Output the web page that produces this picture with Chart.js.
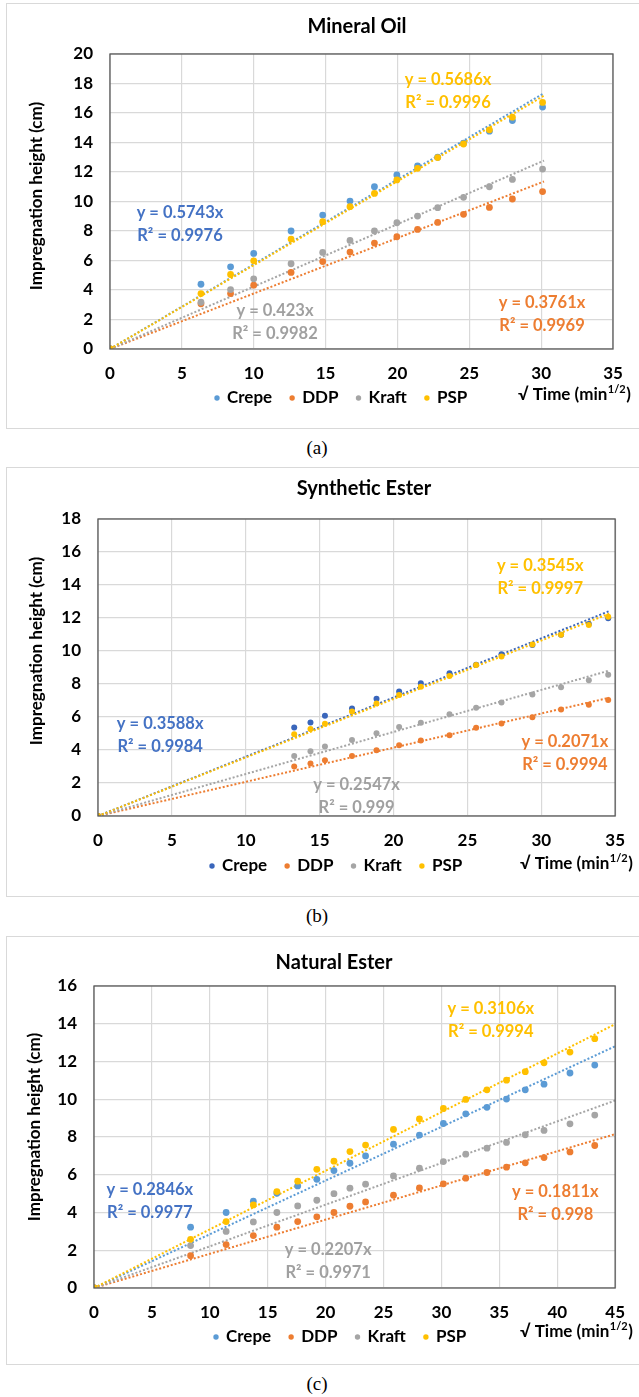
<!DOCTYPE html>
<html>
<head>
<meta charset="utf-8">
<script src="https://cdn.jsdelivr.net/npm/chart.js@4.4.0/dist/chart.umd.min.js"></script>
<style>
  body { margin: 0; width: 639px; height: 1397px; background: #fff; position: relative; overflow: hidden; }
  .panel { position: absolute; left: 6px; width: 640px; border: 1px solid #d9d9d9; box-sizing: border-box; }
  canvas { position: absolute; left: 0; }
  .cap { position: absolute; left: 0; width: 634px; text-align: center; font-family: 'Liberation Serif', serif; font-size: 19px; color: #000; }
</style>
</head>
<body>
<div class="panel" style="top:3px;height:426px"></div>
<div class="panel" style="top:467px;height:430px"></div>
<div class="panel" style="top:936px;height:429px"></div>
<canvas id="oil" width="639" height="425" style="top:3px"></canvas>
<canvas id="syn" width="639" height="429" style="top:467px"></canvas>
<canvas id="nat" width="639" height="428" style="top:936px"></canvas>
<div class="cap" style="top:437px">(a)</div>
<div class="cap" style="top:905px">(b)</div>
<div class="cap" style="top:1373px">(c)</div>

<script>
const seriesNames = ['Crepe', 'DDP', 'Kraft', 'PSP'];

// Mineral Oil
const oilX     = [0, 6.33, 8.39, 10.0, 12.6, 14.8, 16.7, 18.4, 19.96, 21.4, 22.8, 24.6, 26.4, 28.0, 30.1];
const oilCrepe = [0, 4.39, 5.57, 6.48, 8.0, 9.08, 10.03, 11.0, 11.8, 12.41, 13.0, 13.95, 14.77, 15.49, 16.4];
const oilDDP   = [0, 3.06, 3.76, 4.33, 5.19, 5.93, 6.57, 7.18, 7.61, 8.11, 8.58, 9.13, 9.6, 10.17, 10.67];
const oilKraft = [0, 3.17, 4.03, 4.76, 5.78, 6.55, 7.36, 8.0, 8.56, 9.01, 9.58, 10.28, 11.0, 11.5, 12.2];
const oilPSP   = [0, 3.76, 5.05, 5.98, 7.45, 8.63, 9.65, 10.55, 11.46, 12.25, 12.98, 13.9, 14.86, 15.72, 16.72];
const oilSlopes = [0.5743, 0.3761, 0.423, 0.5686];
const oilR2     = ['0.9976', '0.9969', '0.9982', '0.9996'];
const oilTrendEnd = 30.2;

// Synthetic Ester
const synX     = [0, 13.28, 14.38, 15.36, 17.19, 18.85, 20.38, 21.85, 23.79, 25.59, 27.31, 29.4, 31.34, 33.22, 34.53];
const synCrepe = [0, 5.37, 5.67, 6.07, 6.52, 7.11, 7.55, 8.04, 8.65, 9.17, 9.8, 10.37, 10.99, 11.64, 11.99];
const synDDP   = [0, 3.0, 3.18, 3.38, 3.64, 3.99, 4.29, 4.58, 4.9, 5.35, 5.61, 5.99, 6.46, 6.74, 7.03];
const synKraft = [0, 3.64, 3.93, 4.21, 4.6, 5.02, 5.39, 5.65, 6.16, 6.56, 6.88, 7.37, 7.8, 8.22, 8.56];
const synPSP   = [0, 4.96, 5.28, 5.59, 6.34, 6.82, 7.33, 7.84, 8.48, 9.15, 9.66, 10.39, 10.99, 11.58, 12.07];
const synSlopes = [0.3588, 0.2071, 0.2547, 0.3545];
const synR2     = ['0.9984', '0.9994', '0.999', '0.9997'];
const synTrendEnd = 34.6;

// Natural Ester
const natX     = [0, 8.34, 11.41, 13.76, 15.79, 17.59, 19.24, 20.72, 22.1, 23.45, 25.86, 28.1, 30.17, 32.1, 33.93, 35.62, 37.24, 38.86, 41.1, 43.24];
const natCrepe = [0, 3.22, 4.0, 4.6, 5.02, 5.41, 5.76, 6.22, 6.61, 7.0, 7.62, 8.1, 8.72, 9.23, 9.57, 10.01, 10.5, 10.8, 11.39, 11.81];
const natDDP   = [0, 1.71, 2.3, 2.78, 3.22, 3.52, 3.77, 4.0, 4.33, 4.56, 4.92, 5.3, 5.52, 5.82, 6.12, 6.4, 6.63, 6.91, 7.21, 7.55];
const natKraft = [0, 2.25, 3.0, 3.5, 4.0, 4.35, 4.65, 5.0, 5.29, 5.5, 5.94, 6.35, 6.7, 7.09, 7.41, 7.71, 8.12, 8.35, 8.7, 9.16];
const natPSP   = [0, 2.58, 3.52, 4.4, 5.11, 5.66, 6.29, 6.72, 7.23, 7.57, 8.4, 8.96, 9.51, 9.99, 10.5, 11.01, 11.46, 11.93, 12.5, 13.21];
const natSlopes = [0.2846, 0.1811, 0.2207, 0.3106];
const natR2     = ['0.9977', '0.998', '0.9971', '0.9994'];
const natTrendEnd = 45;

const FONT = 'Lato, "Open Sans", sans-serif';
const pointColors = ['#5B9BD5', '#ED7D31', '#A5A5A5', '#FFC000'];
const textColors = ['#4472C4', '#ED7D31', '#A0A0A0', '#FFC000'];

// draws border, title, legend, axis titles and trendline equations
function decorPlugin(p) {
  return {
    id: 'decor',
    afterDatasetsDraw(chart) {
      const ctx = chart.ctx, a = chart.chartArea;
      const xs = chart.scales.x, ys = chart.scales.y;
      ctx.save();
      ctx.strokeStyle = '#595959';
      ctx.lineWidth = 1.3;
      ctx.strokeRect(a.left, a.top, a.right - a.left, a.bottom - a.top);

      // equations
      ctx.font = 'bold 16.5px ' + FONT;
      ctx.textAlign = 'center';
      ctx.textBaseline = 'middle';
      p.eqPos.forEach((e, i) => {
        const x = xs.getPixelForValue(e[0]);
        const y = ys.getPixelForValue(e[1]);
        ctx.fillStyle = textColors[i];
        ctx.fillText('y = ' + p.slopes[i] + 'x', x, y);
        ctx.fillText('R² = ' + p.r2[i], x, y + 23);
      });

      // title
      ctx.fillStyle = '#000';
      ctx.font = 'bold 20px ' + FONT;
      ctx.fillText(p.title, p.titleX, p.titleY);

      // y axis title
      ctx.save();
      ctx.translate(p.yTitleX, p.yTitleY);
      ctx.rotate(-Math.PI / 2);
      ctx.font = 'bold 17px ' + FONT;
      ctx.fillText('Impregnation height (cm)', 0, 0);
      ctx.restore();

      // legend
      ctx.font = 'bold 17px ' + FONT;
      ctx.textAlign = 'left';
      let lx = p.legendX;
      seriesNames.forEach((n, i) => {
        ctx.fillStyle = p.colors[i];
        ctx.beginPath();
        ctx.arc(lx, p.legendY, 2.7, 0, Math.PI * 2);
        ctx.fill();
        ctx.fillStyle = '#000';
        ctx.fillText(n, lx + 10, p.legendY);
        lx += 10 + ctx.measureText(n).width + 20;
      });

      // x axis title with superscript
      let tx = p.xTitleX;
      const s1 = '√ Time (min';
      ctx.fillText(s1, tx, p.xTitleY);
      tx += ctx.measureText(s1).width;
      ctx.font = 'bold 11px ' + FONT;
      ctx.fillText('1/2', tx + 0.5, p.xTitleY - 6);
      tx += ctx.measureText('1/2').width + 1;
      ctx.font = 'bold 17px ' + FONT;
      ctx.fillText(')', tx, p.xTitleY);
      ctx.restore();
    }
  };
}

function makeChart(id, xVals, ys, slopes, r2, trendEnd, xMax, yMax, p) {
  const cv = document.getElementById(id);
  const H = cv.height;
  const datasets = [];
  const order = [3, 2, 1, 0];
  ys.forEach((vals, i) => {
    datasets.push({
      type: 'scatter',
      label: seriesNames[i],
      data: xVals.map((x, k) => ({ x: x, y: vals[k] })),
      backgroundColor: p.colors[i],
      borderColor: p.colors[i],
      pointRadius: p.radius,
      pointHoverRadius: p.radius,
      borderWidth: 0,
      order: order[i]
    });
  });
  slopes.forEach((m, i) => {
    datasets.push({
      type: 'line',
      label: seriesNames[i] + ' trend',
      data: [{ x: 0, y: 0 }, { x: trendEnd, y: m * trendEnd }],
      borderColor: p.colors[i],
      borderWidth: 2,
      borderDash: [2, 2],
      pointRadius: 0,
      fill: false,
      order: 10 + order[i]
    });
  });

  return new Chart(cv.getContext('2d'), {
    type: 'scatter',
    data: { datasets: datasets },
    options: {
      responsive: false,
      animation: false,
      layout: {
        padding: { left: 0, right: 639 - p.plotRight, top: p.plotTop, bottom: H - p.plotBottom - 40 }
      },
      plugins: { legend: { display: false }, title: { display: false }, tooltip: { enabled: false } },
      scales: {
        x: {
          type: 'linear', min: 0, max: xMax,
          ticks: { stepSize: 5, color: '#000', padding: 14, font: { family: FONT, size: 17, weight: 'bold' } },
          grid: { color: '#d9d9d9', lineWidth: 1.2, drawTicks: false },
          border: { display: false },
          afterFit(s) { s.height = 40; }
        },
        y: {
          type: 'linear', min: 0, max: yMax,
          ticks: { stepSize: 2, color: '#000', padding: 17, font: { family: FONT, size: 17, weight: 'bold' } },
          grid: { color: '#d9d9d9', lineWidth: 1.2, drawTicks: false },
          border: { display: false },
          afterFit(s) { s.width = p.plotLeft; }
        }
      }
    },
    plugins: [decorPlugin(Object.assign({ slopes: slopes, r2: r2 }, p))]
  });
}

makeChart('oil', oilX, [oilCrepe, oilDDP, oilKraft, oilPSP], oilSlopes, oilR2, oilTrendEnd, 35, 20, {
  title: 'Mineral Oil', titleX: 357, titleY: 24,
  plotLeft: 110, plotRight: 613, plotTop: 51, plotBottom: 346,
  yTitleX: 37, yTitleY: 193,
  legendX: 217, legendY: 395, xTitleX: 518, xTitleY: 392,
  colors: pointColors, radius: 3.4,
  eqPos: [[4.87, 9.22], [30.06, 3.12], [11.48, 2.58], [23.52, 18.24]]
});

makeChart('syn', synX, [synCrepe, synDDP, synKraft, synPSP], synSlopes, synR2, synTrendEnd, 35, 18, {
  title: 'Synthetic Ester', titleX: 364, titleY: 22,
  plotLeft: 98, plotRight: 622, plotTop: 52, plotBottom: 349,
  yTitleX: 37, yTitleY: 184,
  legendX: 212, legendY: 399, xTitleX: 520, xTitleY: 397,
  colors: ['#3A66BB', '#ED7D31', '#A5A5A5', '#FFC000'], radius: 3.0,
  eqPos: [[4.21, 5.58], [31.6, 4.48], [17.5, 1.88], [29.93, 15.15]]
});

makeChart('nat', natX, [natCrepe, natDDP, natKraft, natPSP], natSlopes, natR2, natTrendEnd, 45, 16, {
  title: 'Natural Ester', titleX: 334, titleY: 27,
  plotLeft: 94, plotRight: 626, plotTop: 50, plotBottom: 352,
  yTitleX: 35, yTitleY: 191,
  legendX: 216, legendY: 401, xTitleX: 520, xTitleY: 396,
  colors: pointColors, radius: 3.4,
  eqPos: [[4.82, 5.19], [39.84, 5.09], [20.22, 2.01], [34.26, 14.78]]
});
</script>
</body>
</html>
